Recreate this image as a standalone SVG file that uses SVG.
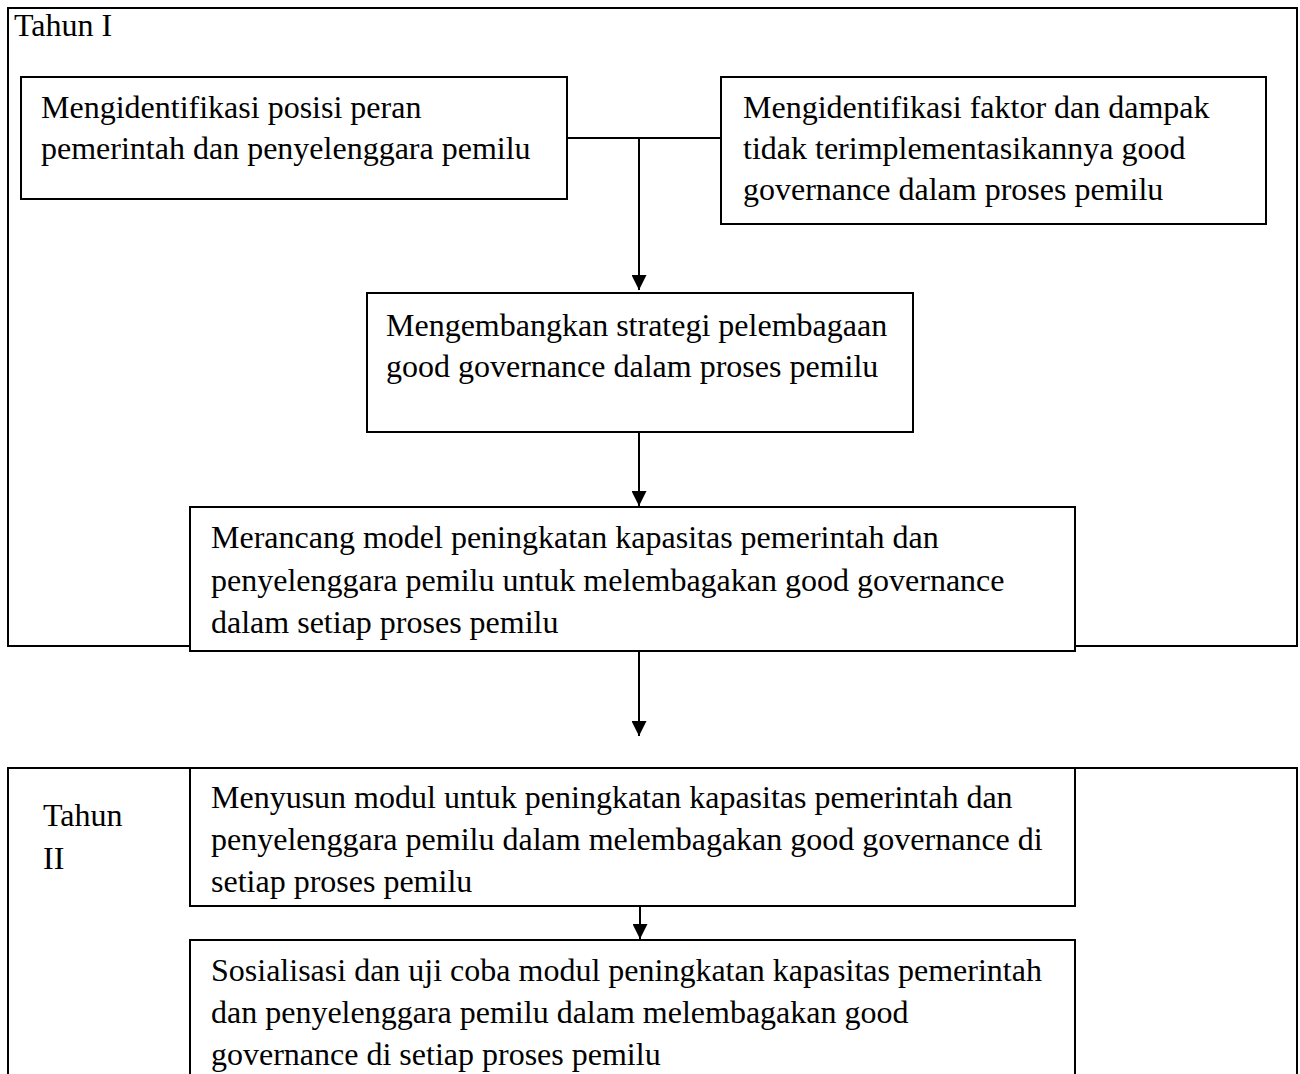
<svg xmlns="http://www.w3.org/2000/svg" width="1300" height="1074" viewBox="0 0 1300 1074">
<style>
.box{fill:#fff;stroke:#000;stroke-width:2}
.t{font-family:"Liberation Serif","Times New Roman",serif;font-size:32px;fill:#000}
.c{fill:none;stroke:#000;stroke-width:2}
</style>
<defs>
<marker id="ah2" viewBox="0 0 10 10" refX="10" refY="5" markerWidth="15" markerHeight="15" markerUnits="userSpaceOnUse" orient="auto"><path d="M0,0 L10,5 L0,10 Z" fill="#000"/></marker>
</defs>
<g id="tahun1">
<rect class="box" x="8" y="8" width="1289" height="638"/>
<text class="t" x="14" y="36">Tahun I</text>
</g>
<g id="tahun2">
<rect class="box" x="8" y="768" width="1289" height="320"/>
<text class="t" x="43" y="826">Tahun</text>
<text class="t" x="43" y="869">II</text>
</g>
<g id="connectors">
<path class="c" d="M567,138 H721"/>
<path class="c" d="M639,138 V290" marker-end="url(#ah2)"/>
<path class="c" d="M639,414 V506" marker-end="url(#ah2)"/>
<path class="c" d="M639,651 V736" marker-end="url(#ah2)"/>
<path class="c" d="M640,906 V939" marker-end="url(#ah2)"/>
</g>
<g id="n1">
<rect class="box" x="21" y="77" width="546" height="122"/>
<text class="t" x="41" y="118">Mengidentifikasi posisi peran</text>
<text class="t" x="41" y="159">pemerintah dan penyelenggara pemilu</text>
</g>
<g id="n2">
<rect class="box" x="721" y="77" width="545" height="147"/>
<text class="t" x="743" y="118">Mengidentifikasi faktor dan dampak</text>
<text class="t" x="743" y="159">tidak terimplementasikannya good</text>
<text class="t" x="743" y="200">governance dalam proses pemilu</text>
</g>
<g id="n3">
<rect class="box" x="367" y="293" width="546" height="139"/>
<text class="t" x="386" y="336">Mengembangkan strategi pelembagaan</text>
<text class="t" x="386" y="377">good governance dalam proses pemilu</text>
</g>
<g id="n4">
<rect class="box" x="190" y="507" width="885" height="144"/>
<text class="t" x="211" y="548">Merancang model peningkatan kapasitas pemerintah dan</text>
<text class="t" x="211" y="591">penyelenggara pemilu untuk melembagakan good governance</text>
<text class="t" x="211" y="633">dalam setiap proses pemilu</text>
</g>
<g id="n5">
<rect class="box" x="190" y="768" width="885" height="138"/>
<text class="t" x="211" y="808">Menyusun modul untuk peningkatan kapasitas pemerintah dan</text>
<text class="t" x="211" y="850">penyelenggara pemilu dalam melembagakan good governance di</text>
<text class="t" x="211" y="892">setiap proses pemilu</text>
</g>
<g id="n6">
<rect class="box" x="190" y="940" width="885" height="150"/>
<text class="t" x="211" y="981">Sosialisasi dan uji coba modul peningkatan kapasitas pemerintah</text>
<text class="t" x="211" y="1023">dan penyelenggara pemilu dalam melembagakan good</text>
<text class="t" x="211" y="1065">governance di setiap proses pemilu</text>
</g>
</svg>
